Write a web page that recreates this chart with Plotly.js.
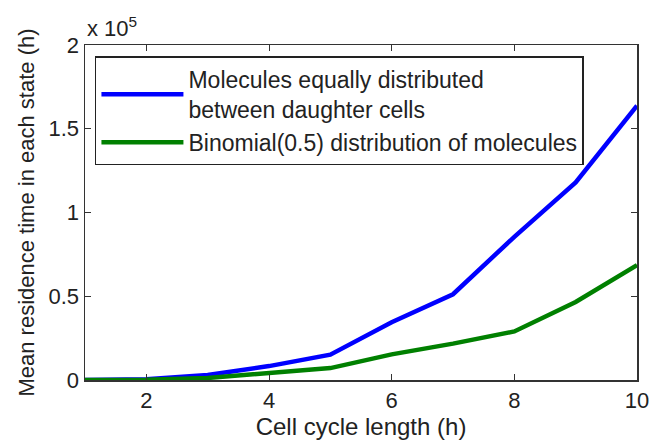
<!DOCTYPE html>
<html>
<head>
<meta charset="utf-8">
<script src="https://cdn.plot.ly/plotly-3.0.1.min.js"></script>
<style>html,body{margin:0;padding:0;background:#fff;}#chart{width:652px;height:440px;}</style>
</head>
<body>
<div id="chart"></div>
<script>
var cycleLength = [1, 2, 3, 4, 5, 6, 7, 8, 9, 10];
var equalSplit = [0, 400, 3000, 8300, 15100, 34500, 51200, 85500, 118000, 163800];
var binomialSplit = [0, 100, 1200, 4100, 7100, 15300, 21700, 29000, 46600, 68600];
var yTickVals = [0, 50000, 100000, 150000, 200000];
var yTickText = ['0', '0.5', '1', '1.5', '2'];
var xTickVals = [2, 4, 6, 8, 10];
var seriesNames = ['Molecules equally distributed<br>between daughter cells', 'Binomial(0.5) distribution of molecules'];

var font = 'Liberation Sans, Arial, Helvetica, sans-serif';
var traces = [
  {x: cycleLength, y: equalSplit, mode: 'lines', name: seriesNames[0], line: {color: '#0000ff', width: 4.5}},
  {x: cycleLength, y: binomialSplit, mode: 'lines', name: seriesNames[1], line: {color: '#008000', width: 4.5}}
];
var axisCommon = {showgrid: false, zeroline: false, showline: true, linecolor: '#333', linewidth: 1.5,
  mirror: 'ticks', ticks: 'inside', ticklen: 6, tickwidth: 1, tickcolor: '#333',
  tickfont: {family: font, size: 22, color: '#222'}};
var layout = {
  width: 652, height: 440,
  margin: {l: 85, r: 15, t: 45, b: 60},
  paper_bgcolor: '#fff', plot_bgcolor: '#fff',
  font: {family: font, color: '#222'},
  xaxis: Object.assign({}, axisCommon, {range: [1, 10], tickvals: xTickVals,
    title: {text: 'Cell cycle length (h)', font: {family: font, size: 24, color: '#222'}, standoff: 3}}),
  yaxis: Object.assign({}, axisCommon, {range: [0, 200000], tickvals: yTickVals, ticktext: yTickText,
    title: {text: 'Mean residence time in each state (h)', font: {family: font, size: 22, color: '#222'}, standoff: 8}}),
  legend: {x: 0.018, y: 0.966, xanchor: 'left', yanchor: 'top', bgcolor: '#fff', bordercolor: '#222', borderwidth: 1.5,
    font: {family: font, size: 23, color: '#222'}, itemwidth: 82, tracegroupgap: 0},
  showlegend: true,
  annotations: [{xref: 'paper', yref: 'paper', x: 0, y: 1, xanchor: 'left', yanchor: 'bottom', yshift: 2,
    text: 'x 10<sup>5</sup>', showarrow: false, font: {family: font, size: 22, color: '#222'}}]
};
Plotly.newPlot('chart', traces, layout, {displayModeBar: false, staticPlot: true});
</script>
</body>
</html>
